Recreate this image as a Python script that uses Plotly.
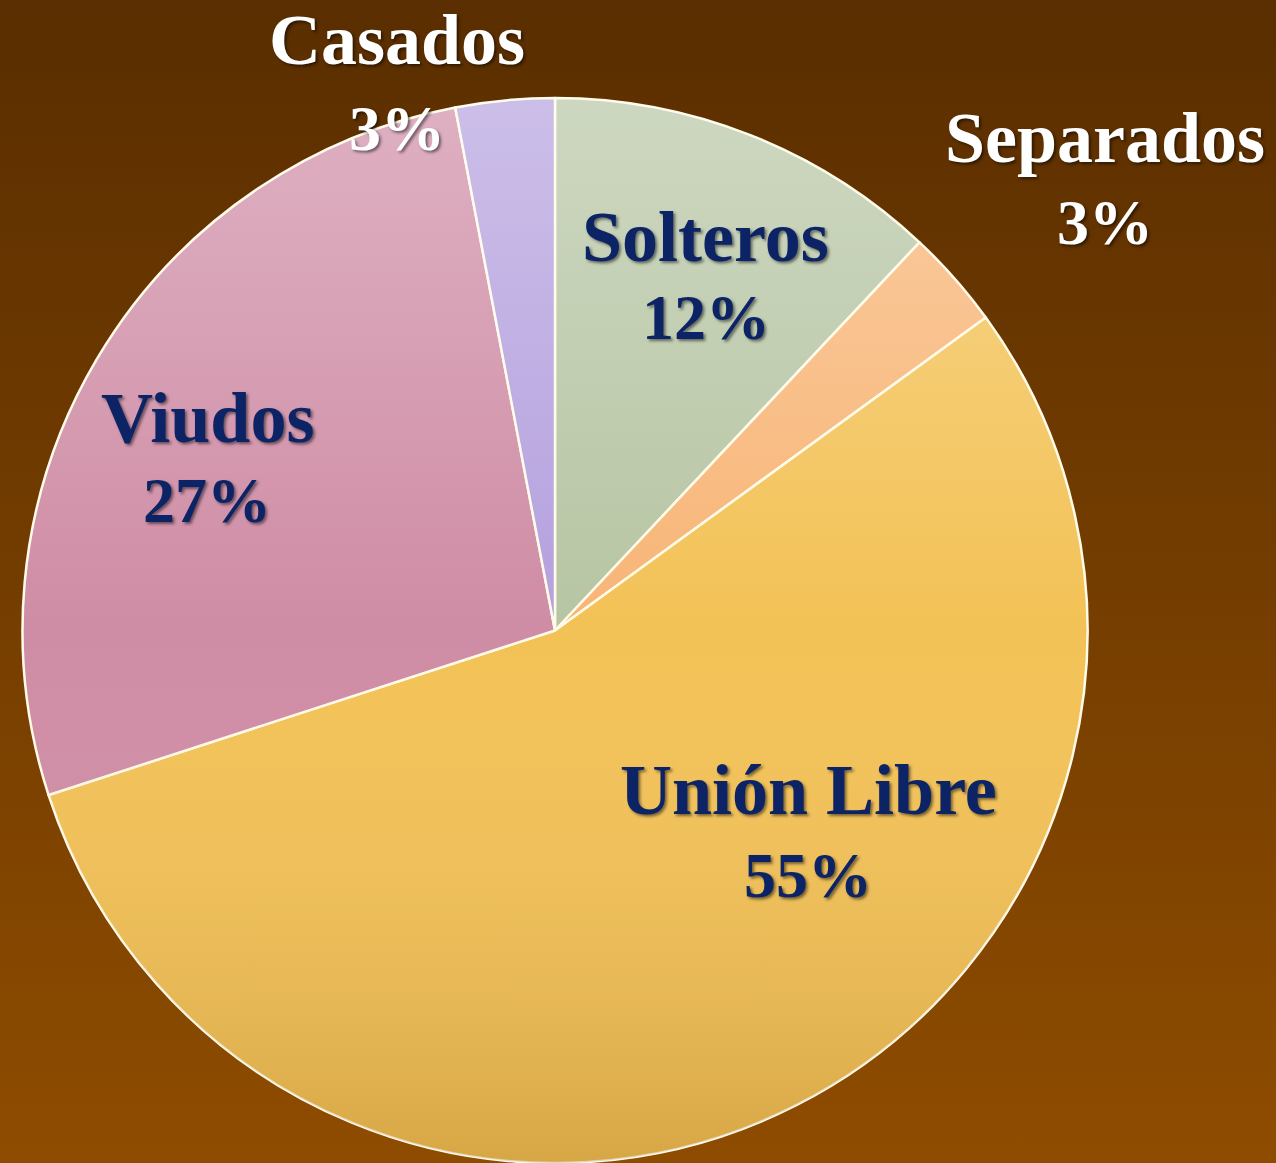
import base64
import plotly.graph_objects as go

labels = ["Solteros", "Separados", "Unión Libre", "Viudos", "Casados"]
values = [12, 3, 55, 27, 3]
pct_text = ["12%", "3%", "55%", "27%", "3%"]
colors = ["#b6c5a3", "#f8b576", "#f3c256", "#cf8ca5", "#b4a0de"]
label_colors = ["#0c2466", "#ffffff", "#0c2466", "#0c2466", "#ffffff"]
# label positions in pixels (x centre, name line y, percent line y)
label_px = [706, 1105, 808, 207, 397]
name_py = [237, 138, 790, 418, 40]
pct_py = [318, 222, 875, 500, 128]

W, H = 1276, 1163


def svg_uri(svg):
    return "data:image/svg+xml;base64," + base64.b64encode(svg.encode()).decode()


bg_svg = f"""<svg xmlns='http://www.w3.org/2000/svg' width='{W}' height='{H}' viewBox='0 0 {W} {H}' preserveAspectRatio='none'>
<defs><linearGradient id='g' x1='0' y1='0' x2='0' y2='1'>
<stop offset='0' stop-color='#5a2e00'/><stop offset='1' stop-color='#8e4c00'/></linearGradient></defs>
<rect width='{W}' height='{H}' fill='url(#g)'/></svg>"""

cx, cy, r = 555, 630.5, 532.5
shade_svg = f"""<svg xmlns='http://www.w3.org/2000/svg' width='{W}' height='{H}' viewBox='0 0 {W} {H}' preserveAspectRatio='none'>
<defs><linearGradient id='s' x1='0' y1='0' x2='0' y2='1'>
<stop offset='0' stop-color='#ffffff' stop-opacity='0.32'/>
<stop offset='0.5' stop-color='#ffffff' stop-opacity='0.0'/>
<stop offset='1' stop-color='#6a3a00' stop-opacity='0.2'/></linearGradient></defs>
<circle cx='{cx}' cy='{cy}' r='{r}' fill='url(#s)'/></svg>"""

fig = go.Figure()
fig.add_trace(go.Pie(
    labels=labels,
    values=values,
    sort=False,
    direction="clockwise",
    rotation=0,
    marker=dict(colors=colors, line=dict(color="#fffbe8", width=2.5)),
    textinfo="none",
    hoverinfo="label+percent",
    showlegend=False,
    domain=dict(x=[22 / W, 1088 / W], y=[0, 1 - 98 / H]),
))

annotations = []
for i, lab in enumerate(labels):
    base = dict(family="Liberation Serif", color=label_colors[i],
                weight="bold", shadow="2px 2px 3px rgba(0,0,0,0.5)")
    annotations.append(dict(
        x=label_px[i] / W, y=1 - name_py[i] / H, xref="paper", yref="paper",
        xanchor="center", yanchor="middle",
        text=lab, showarrow=False, font=dict(size=72, **base),
    ))
    annotations.append(dict(
        x=label_px[i] / W, y=1 - pct_py[i] / H, xref="paper", yref="paper",
        xanchor="center", yanchor="middle",
        text=pct_text[i], showarrow=False, font=dict(size=64, **base),
    ))

fig.update_layout(
    width=W, height=H,
    margin=dict(l=0, r=0, t=0, b=0),
    paper_bgcolor="#734000",
    plot_bgcolor="rgba(0,0,0,0)",
    annotations=annotations,
    images=[
        dict(source=svg_uri(bg_svg), xref="paper", yref="paper", x=0, y=1,
             sizex=1, sizey=1, xanchor="left", yanchor="top",
             sizing="stretch", layer="below"),
        dict(source=svg_uri(shade_svg), xref="paper", yref="paper", x=0, y=1,
             sizex=1, sizey=1, xanchor="left", yanchor="top",
             sizing="stretch", layer="above"),
    ],
)

fig.write_html("out.html", config={"displayModeBar": False},
               post_script="document.body.style.margin='0';document.body.style.overflow='hidden';")
